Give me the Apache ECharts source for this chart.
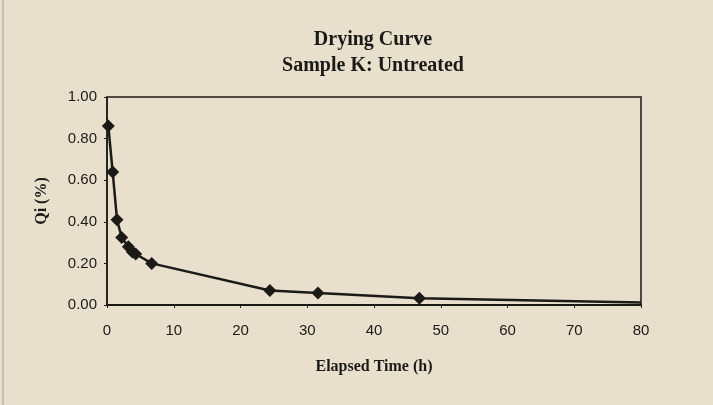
<!DOCTYPE html>
<html>
<head>
<meta charset="utf-8">
<script src="https://cdn.jsdelivr.net/npm/echarts@6/dist/echarts.min.js"></script>
<style>
  html, body { margin: 0; padding: 0; background: #e8e0cd; }
  #chart { width: 713px; height: 405px; }
</style>
</head>
<body>
<div id="chart"></div>
<script>
// Drying curve measurements: elapsed time (h) vs. moisture ratio Qi
const elapsedHours = [0.2, 0.85, 1.5, 2.2, 3.2, 3.8, 4.3, 6.7, 24.4, 31.6, 46.8, 80];
const qiValues     = [0.86, 0.64, 0.41, 0.325, 0.28, 0.255, 0.245, 0.20, 0.07, 0.058, 0.032, 0.012];
const titleLines   = ['Drying Curve', 'Sample K: Untreated'];
const xAxisTitle   = 'Elapsed Time (h)';
const yAxisTitle   = 'Qi (%)';

const ink = '#1c1a17';
const serif = '"Liberation Serif", "DejaVu Serif", serif';
const sans = '"Liberation Sans", "DejaVu Sans", sans-serif';

const points = elapsedHours.map((t, i) => {
  const item = { value: [t, qiValues[i]] };
  // the curve runs on to the right edge without a marker there
  if (i === elapsedHours.length - 1) item.symbol = 'none';
  return item;
});

const chart = echarts.init(document.getElementById('chart'));
chart.setOption({
  backgroundColor: '#e8e0cd',
  animation: false,
  title: {
    text: titleLines.join('\n'),
    left: 368,
    top: 22,
    textAlign: 'center',
    textStyle: { fontFamily: serif, fontWeight: 'bold', fontSize: 20, lineHeight: 26, color: ink }
  },
  grid: {
    left: 107, right: 72, top: 97, bottom: 100,
    show: true, borderColor: ink, borderWidth: 1.5, backgroundColor: 'transparent'
  },
  xAxis: {
    type: 'value', min: 0, max: 80, interval: 10,
    name: xAxisTitle, nameLocation: 'middle', nameGap: 54,
    nameTextStyle: { fontFamily: serif, fontWeight: 'bold', fontSize: 16, color: ink },
    axisLine: { lineStyle: { color: ink, width: 2 } },
    axisTick: { length: 3, lineStyle: { color: ink } },
    axisLabel: { fontFamily: sans, fontSize: 15, color: ink, margin: 18 },
    splitLine: { show: false }
  },
  yAxis: {
    type: 'value', min: 0, max: 1, interval: 0.2,
    name: yAxisTitle, nameLocation: 'middle', nameGap: 57, nameRotate: 90,
    nameTextStyle: { fontFamily: serif, fontWeight: 'bold', fontSize: 16, color: ink },
    axisLine: { lineStyle: { color: ink, width: 1.5 } },
    axisTick: { length: 3, lineStyle: { color: ink } },
    axisLabel: { fontFamily: sans, fontSize: 15, color: ink, margin: 10,
                 formatter: v => v.toFixed(2) },
    splitLine: { show: false }
  },
  series: [{
    type: 'line',
    data: points,
    symbol: 'diamond',
    symbolSize: 13,
    lineStyle: { color: ink, width: 2.5 },
    itemStyle: { color: ink },
    z: 3
  }],
  graphic: [{
    type: 'line',
    shape: { x1: 3, y1: 0, x2: 3, y2: 405 },
    style: { stroke: '#a49e92', lineWidth: 1 }
  }]
});
</script>
</body>
</html>
